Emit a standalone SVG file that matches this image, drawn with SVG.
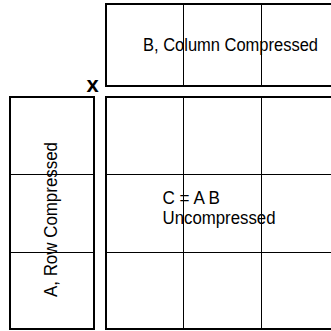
<svg xmlns="http://www.w3.org/2000/svg" width="331" height="331" viewBox="0 0 331 331">
<style>
.box{fill:#fff;stroke:#000;stroke-width:2}
.grid{stroke:#000;stroke-width:1;fill:none}
.lbl{font-family:"Liberation Sans",Arial,sans-serif;font-size:18px;fill:#000}
.op{font-family:"Liberation Sans",Arial,sans-serif;font-size:22px;font-weight:bold;fill:#000}
</style>
<rect width="331" height="331" fill="#fff"/>
<g id="matrixB">
<rect class="box" x="106" y="4" width="240" height="82"/>
<path class="grid" d="M183.5 4V86M261.5 4V86"/>
<text class="lbl" x="143" y="51" textLength="175" lengthAdjust="spacingAndGlyphs">B, Column Compressed</text>
</g>
<g id="matrixA">
<rect class="box" x="10" y="97" width="84" height="232"/>
<path class="grid" d="M10 174.5H94M10 252.5H94"/>
<text class="lbl" transform="translate(57,297) rotate(-90)" textLength="155" lengthAdjust="spacingAndGlyphs">A, Row Compressed</text>
</g>
<g id="matrixC">
<rect class="box" x="106" y="97" width="240" height="232"/>
<path class="grid" d="M183.5 97V329M261.5 97V329M106 174.5H331M106 252.5H331"/>
<text class="lbl" x="162.5" y="204" textLength="57.5" lengthAdjust="spacingAndGlyphs">C = A B</text>
<text class="lbl" x="162.5" y="224" textLength="113" lengthAdjust="spacingAndGlyphs">Uncompressed</text>
</g>
<g id="times">
<text class="op" x="92.5" y="92" text-anchor="middle">x</text>
</g>
<g id="connectors"></g>
</svg>
